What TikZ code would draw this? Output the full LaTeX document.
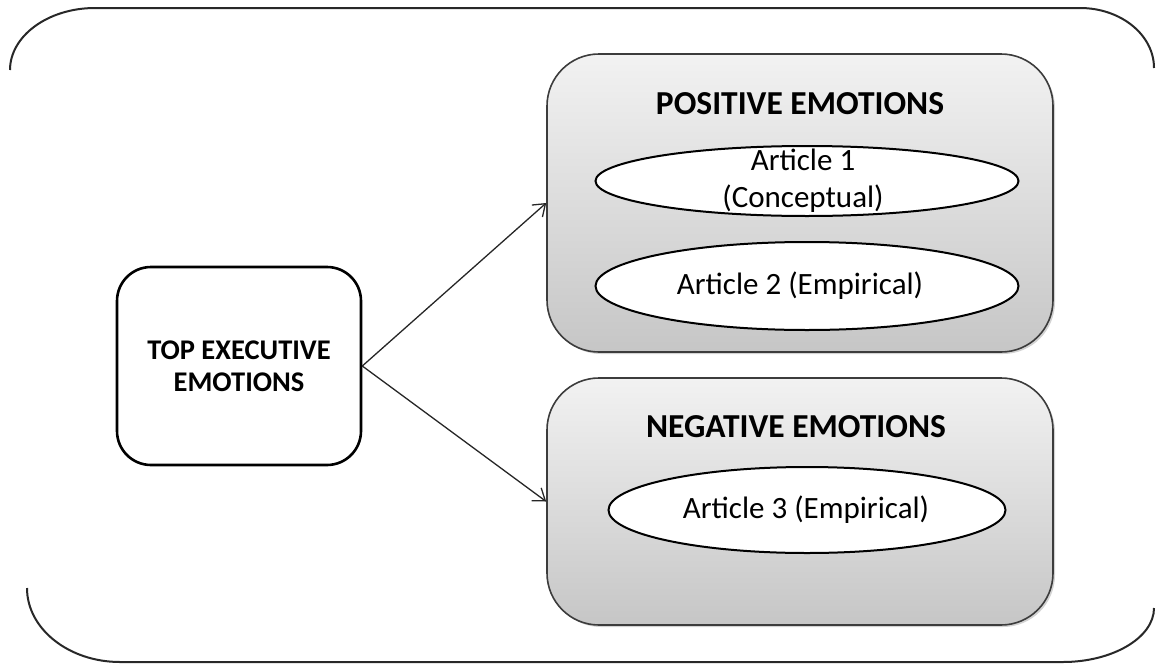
\documentclass[tikz,border=0pt]{standalone}
\usepackage{fontspec}
\setmainfont{Carlito}
\usetikzlibrary{arrows.meta,shapes.geometric,shadows}

\definecolor{frameline}{RGB}{40,40,40}
\definecolor{boxline}{RGB}{60,60,60}
\definecolor{shadetop}{RGB}{242,242,242}
\definecolor{shadebot}{RGB}{198,198,198}

\tikzset{
  mainbox/.style={draw=black, line width=2.6pt, rounded corners=34pt, fill=white,
    minimum width=244pt, minimum height=198pt, align=center,
    font=\fontsize{28.5}{32}\selectfont\bfseries, inner sep=0pt},
  groupbox/.style={draw=boxline, line width=1.6pt, rounded corners=52pt,
    top color=shadetop, bottom color=shadebot, minimum width=506pt, inner sep=0pt,
    drop shadow={shadow xshift=2pt, shadow yshift=-2pt, opacity=0.35, fill=gray}},
  grouptitle/.style={font=\fontsize{33.5}{36}\selectfont\bfseries, inner sep=0pt},
  article/.style={ellipse, draw=black, line width=2pt, fill=white, inner sep=0pt},
  articletext/.style={align=center, font=\fontsize{31}{37}\selectfont, inner sep=0pt},
  link/.style={draw=black!85, line width=1.3pt,
    -{Straight Barb[length=11pt,width=16pt,line width=1.3pt]}},
  outline/.style={draw=frameline, line width=2pt}
}

\begin{document}
\begin{tikzpicture}[x=1pt,y=-1pt]
  \useasboundingbox (0,0) rectangle (1156,664);

  % surrounding frame (open at the sides)
  \draw[outline] (10,70) .. controls (10,36) and (48,8) .. (95,8)
    -- (1080,8) .. controls (1121,8) and (1154,35) .. (1154,68);
  \draw[outline] (27,588) .. controls (27,629) and (69,662) .. (120,662)
    -- (1063,662) .. controls (1112,662) and (1154,638) .. (1154,608);

  % group panels
  \node[groupbox, minimum height=298pt] (pos) at (800,203) {};
  \node[groupbox, minimum height=247pt] (neg) at (800,501.5) {};

  \node[grouptitle] (postitle) at (800,104) {POSITIVE EMOTIONS};
  \node[grouptitle] (negtitle) at (796,427) {NEGATIVE EMOTIONS};

  % articles
  \node[article, minimum width=423pt, minimum height=70pt] (a1) at (807,181) {};
  \node[articletext] (a1text) at (803,181) {Article 1\\(Conceptual)};
  \node[article, minimum width=423pt, minimum height=88pt] (a2) at (807,286) {};
  \node[articletext] (a2text) at (800,286) {Article 2 (Empirical)};
  \node[article, minimum width=397pt, minimum height=86pt] (a3) at (807,510) {};
  \node[articletext] (a3text) at (806,510) {Article 3 (Empirical)};

  % root
  \node[mainbox] (top) at (239,366) {TOP EXECUTIVE\\EMOTIONS};

  % connectors
  \draw[link] (top.east) -- (pos.west);
  \draw[link] (top.east) -- (neg.west);
\end{tikzpicture}
\end{document}
